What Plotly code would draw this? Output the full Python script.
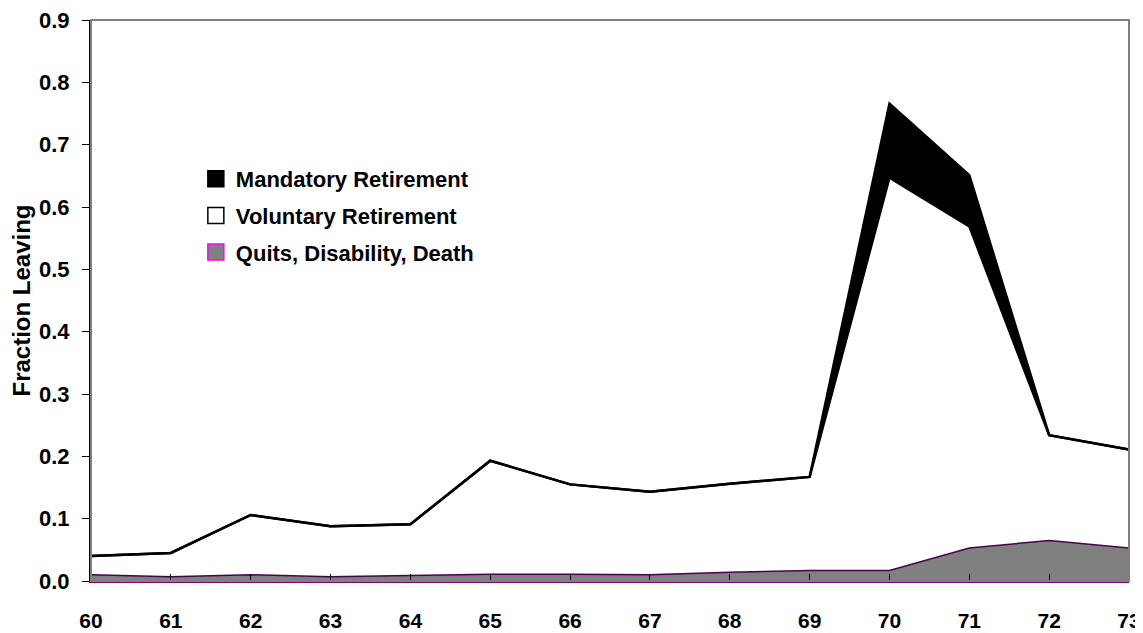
import plotly.graph_objects as go

ages = [60, 61, 62, 63, 64, 65, 66, 67, 68, 69, 70, 71, 72, 73]
quits = [0.010, 0.007, 0.010, 0.007, 0.009, 0.011, 0.011, 0.010, 0.014, 0.017, 0.017, 0.053, 0.065, 0.053]
voluntary = [0.030, 0.038, 0.096, 0.081, 0.082, 0.182, 0.144, 0.133, 0.142, 0.150, 0.630, 0.516, 0.169, 0.158]
mandatory = [0, 0, 0, 0, 0, 0, 0, 0, 0, 0, 0.119, 0.082, 0, 0]

font = "Liberation Sans, Arial, sans-serif"

fig = go.Figure()

# stacked areas (bottom to top)
fig.add_trace(go.Scatter(x=ages, y=quits, stackgroup="a", mode="lines",
                         line=dict(color="#4a004a", width=1.5), fillcolor="#808080",
                         showlegend=False, hoverinfo="skip"))
fig.add_trace(go.Scatter(x=ages, y=voluntary, stackgroup="a", mode="lines",
                         line=dict(color="black", width=2.5), fillcolor="white",
                         showlegend=False, hoverinfo="skip"))
fig.add_trace(go.Scatter(x=ages, y=mandatory, stackgroup="a", mode="lines",
                         line=dict(color="black", width=2.5), fillcolor="black",
                         showlegend=False, hoverinfo="skip"))

# legend entries as squares
legend_items = [
    ("Mandatory Retirement", "black", "black"),
    ("Voluntary Retirement", "white", "black"),
    ("Quits, Disability, Death", "#808080", "#ff00ff"),
]
for i, (name, fill, edge) in enumerate(legend_items):
    fig.add_trace(go.Scatter(x=[None], y=[None], mode="markers", name=name,
                             legendgroup=str(i),
                             marker=dict(symbol="square", size=16, color=fill,
                                         line=dict(color=edge, width=1.5))))

# grey frame around plot area
fig.add_shape(type="rect", xref="x domain", yref="y domain", x0=0, x1=1, y0=0, y1=1,
              line=dict(color="#808080", width=2), layer="above")

# page body adds ~8px offset, so the figure is a bit smaller than the window
fig.update_layout(
    width=1135, height=625,
    margin=dict(l=83, r=14, t=12, b=52),
    plot_bgcolor="white", paper_bgcolor="white",
    font=dict(family=font, size=21, color="black", weight="bold"),
    showlegend=True,
    legend=dict(x=0.101, y=0.754, xanchor="left", yanchor="top",
                font=dict(size=22, weight="bold"), tracegroupgap=5,
                bgcolor="rgba(0,0,0,0)", itemclick=False),
    xaxis=dict(range=[60, 73], tickvals=ages, ticks="inside", ticklen=7,
               tickcolor="black", showline=True, linecolor="#800080", linewidth=2,
               showgrid=False, zeroline=False, ticklabelstandoff=20,
               ticklabeloverflow="allow", automargin=False,
               tickfont=dict(size=21, weight="bold")),
    yaxis=dict(range=[0, 0.9], dtick=0.1, tickformat=".1f", ticks="outside",
               ticklen=7, tickcolor="black", showline=True, linecolor="black",
               linewidth=2, showgrid=False, zeroline=False, ticklabelstandoff=8,
               ticklabeloverflow="allow", automargin=False,
               tickfont=dict(size=22, weight="bold"),
               title=dict(text="Fraction Leaving", standoff=12,
                          font=dict(size=24, weight="bold"))),
)

fig.write_html("out.html")
